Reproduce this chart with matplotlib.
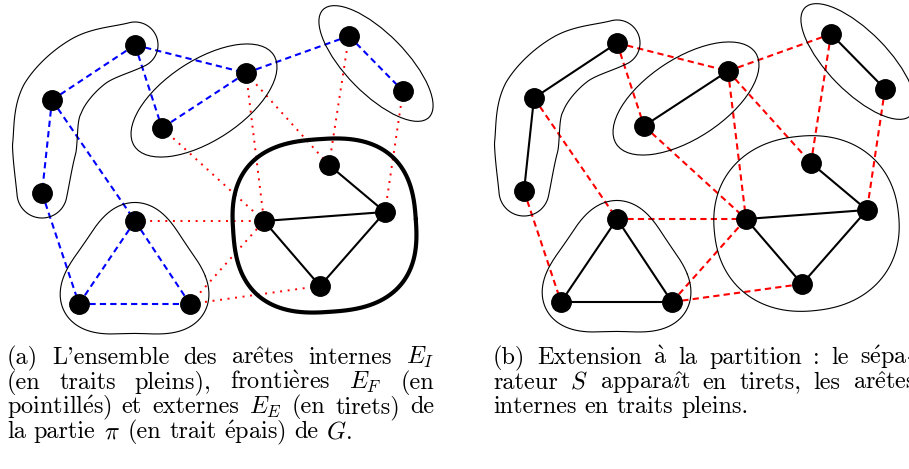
import numpy as np
import matplotlib
matplotlib.use("Agg")
import matplotlib.pyplot as plt
from matplotlib.patches import Ellipse

plt.rcParams['mathtext.fontset'] = 'cm'
plt.rcParams['font.family'] = ['cmr10', 'STIXGeneral']

# noeuds du graphe G (panneau a, en pixels)
names = list("ABCDEFGHIJKLMN")
node_x = [135, 52, 42, 246, 162, 349, 403, 329, 264, 385, 320, 135, 79, 190]
node_y = [45, 100, 193, 73, 128, 36, 91, 165, 221, 212, 286, 221, 304, 304]

# aretes
internal_edges = [("H", "J"), ("I", "J"), ("I", "K"), ("J", "K")]
frontier_edges = [("E", "I"), ("D", "I"), ("D", "H"), ("F", "H"), ("G", "J"),
                  ("L", "I"), ("N", "I"), ("N", "K")]
external_edges = [("A", "B"), ("A", "D"), ("A", "E"), ("B", "C"), ("B", "L"),
                  ("C", "M"), ("D", "E"), ("D", "F"), ("F", "G"), ("L", "M"),
                  ("L", "N"), ("M", "N")]

# partition
parts = [["A", "B", "C"], ["D", "E"], ["F", "G"], ["H", "I", "J", "K"], ["L", "M", "N"]]

# legendes
caption_a = [
    ["(a)", "L'ensemble", "des", r"$\mathrm{ar\hat{e}tes}$", "internes", r"$E_I$"],
    ["(en", "traits", "pleins),", r"$\mathrm{fronti\grave{e}res}$", r"$E_F$", "(en"],
    [r"$\mathrm{pointill\acute{e}s)}$", "et", "externes", r"$E_E$", "(en", "tirets)", "de"],
    ["la", "partie", r"$\pi$", "(en", "trait", r"$\mathrm{\acute{e}pais)}$", "de", r"$G.$"],
]
caption_b = [
    ["(b)", "Extension", r"$\mathrm{\grave{a}}$", "la", "partition", ":", "le",
     [r"$\mathrm{s\acute{e}pa}$", "-"]],
    ["rateur", r"$S$", r"$\mathrm{appara\hat{\imath}t}$", "en", "tirets,", "les",
     r"$\mathrm{ar\hat{e}tes}$"],
    ["internes", "en", "traits", "pleins."],
]

pos = {n: np.array([x, y], float) for n, x, y in zip(names, node_x, node_y)}
part_of = {n: i for i, p in enumerate(parts) for n in p}
all_edges = internal_edges + frontier_edges + external_edges

fig = plt.figure(figsize=(9.09, 4.69), dpi=100)
ax = fig.add_axes([0, 0, 1, 1])
ax.set_xlim(0, 909)
ax.set_ylim(469, 0)
ax.axis('off')

DASH = (0, (3.0, 2.0))
DOT = (0, (1.0, 2.9))


def edge(p, q, dx, dy, **kw):
    ax.plot([pos[p][0] + dx, pos[q][0] + dx], [pos[p][1] + dy, pos[q][1] + dy],
            zorder=1, **kw)


def ellipse_hull(p, q, margin, half_w, lw):
    c = (p + q) / 2
    L = np.hypot(*(q - p))
    ang = np.degrees(np.arctan2(q[1] - p[1], q[0] - p[0]))
    ax.add_patch(Ellipse(c, 2 * (L / 2 + margin), 2 * half_w, angle=ang,
                         fill=False, ec='k', lw=lw, zorder=2))


def superellipse_hull(pts, mx, my, n, rot, lw):
    lo, hi = pts.min(0), pts.max(0)
    c = (lo + hi) / 2
    A, B = (hi - lo) / 2 + [mx, my]
    t = np.linspace(0, 2 * np.pi, 400)
    x = A * np.sign(np.cos(t)) * np.abs(np.cos(t)) ** (2 / n)
    y = B * np.sign(np.sin(t)) * np.abs(np.sin(t)) ** (2 / n)
    r = np.radians(rot)
    xr = c[0] + x * np.cos(r) - y * np.sin(r)
    yr = c[1] + x * np.sin(r) + y * np.cos(r)
    ax.plot(xr, yr, color='k', lw=lw, zorder=2, solid_capstyle='round')


def poly_dist(px, py, poly):
    dmin = np.full(px.shape, np.inf)
    s = []
    for i in range(len(poly)):
        a, b = poly[i], poly[(i + 1) % len(poly)]
        ab = b - a
        apx, apy = px - a[0], py - a[1]
        t = np.clip((apx * ab[0] + apy * ab[1]) / (ab @ ab), 0, 1)
        dmin = np.minimum(dmin, np.hypot(apx - t * ab[0], apy - t * ab[1]))
        s.append(ab[0] * apy - ab[1] * apx)
    s = np.array(s)
    inside = np.all(s >= 0, 0) | np.all(s <= 0, 0)
    return np.where(inside, 0, dmin)


def blob_hull(pts, r, win, lw):
    c = pts.mean(0)
    th = np.linspace(0, 2 * np.pi, 720, endpoint=False)
    t = np.arange(0, 250, 0.25)
    px = c[0] + t[:, None] * np.cos(th)[None, :]
    py = c[1] + t[:, None] * np.sin(th)[None, :]
    d = poly_dist(px, py, pts)
    rad = t[np.argmax(d > r, axis=0)]
    k = int(win / 360 * 720) | 1
    for _ in range(2):
        ext = np.concatenate([rad[-k:], rad, rad[:k]])
        rad = np.convolve(ext, np.ones(k) / k, mode='same')[k:-k]
    x = c[0] + rad * np.cos(th)
    y = c[1] + rad * np.sin(th)
    ax.plot(np.append(x, x[0]), np.append(y, y[0]), color='k', lw=lw, zorder=2)


def catmull(P, n=80):
    P = np.vstack([2 * P[0] - P[1], P, 2 * P[-1] - P[-2]])
    out = []
    t = np.linspace(0, 1, n, endpoint=False)[:, None]
    for i in range(1, len(P) - 2):
        p0, p1, p2, p3 = P[i - 1], P[i], P[i + 1], P[i + 2]
        out.append(0.5 * (2 * p1 + (-p0 + p2) * t + (2 * p0 - 5 * p1 + 4 * p2 - p3) * t ** 2
                          + (-p0 + 3 * p1 - 3 * p2 + p3) * t ** 3))
    out.append(P[-2][None])
    return np.vstack(out)


def band_hull(pts, bows, radii, lw, n=80):
    ctrl = [pts[0]]
    for i in range(len(pts) - 1):
        p, q = pts[i], pts[i + 1]
        d = (q - p) / np.hypot(*(q - p))
        ctrl += [(p + q) / 2 + bows[i] * np.array([-d[1], d[0]]), q]
    ctrl = np.array(ctrl)
    curve = catmull(ctrl, n)
    rr = np.concatenate([np.linspace(radii[i], radii[i + 1], n, endpoint=False)
                         for i in range(len(radii) - 1)] + [[radii[-1]]])
    lo, hi = curve.min(0) - 50, curve.max(0) + 50
    X, Y = np.meshgrid(np.arange(lo[0], hi[0], 0.5), np.arange(lo[1], hi[1], 0.5))
    F = np.full(X.shape, np.inf)
    for (cx, cy), r in zip(curve, rr):
        F = np.minimum(F, np.hypot(X - cx, Y - cy) - r)
    ax.contour(X, Y, F, levels=[0], colors='k', linewidths=lw, zorder=2)


def draw_panel(dx, dy, mode):
    for p, q in all_edges:
        same = part_of[p] == part_of[q]
        if mode == 'a':
            if (p, q) in internal_edges:
                edge(p, q, dx, dy, color='k', lw=1.5)
            elif (p, q) in frontier_edges:
                edge(p, q, dx, dy, color='red', lw=1.4, ls=DOT)
            else:
                edge(p, q, dx, dy, color='blue', lw=1.5, ls=DASH)
        else:
            if same:
                edge(p, q, dx, dy, color='k', lw=1.5)
            else:
                edge(p, q, dx, dy, color='red', lw=1.5, ls=DASH)

    sh = np.array([dx, dy], float)
    P = {n: pos[n] + sh for n in names}
    band_hull(np.array([P["A"], P["B"], P["C"]]), [12, 2.5], [23, 28, 32, 32, 25], 0.8)
    ellipse_hull(P["E"], P["D"], 33, 40, 0.8)
    ellipse_hull(P["F"], P["G"], 37, 30, 0.8)
    blob_hull(np.array([P["L"], P["M"], P["N"]]), 26, 46, 0.8)
    quad = np.array([P["H"], P["I"], P["J"], P["K"]])
    if mode == 'a':
        superellipse_hull(quad, 31, 26, 2.6, -4, 3.0)
    else:
        superellipse_hull(quad, 32, 27, 2.2, -6, 0.8)

    xs = [pos[n][0] + dx for n in names]
    ys = [pos[n][1] + dy for n in names]
    ax.plot(xs, ys, 'o', color='k', ms=14, zorder=3)


draw_panel(0, 0, 'a')
draw_panel(482, -2, 'b')

FS = 17.5
renderer = fig.canvas.get_renderer()


def put_line(words, x0, y, x1=None):
    groups = []
    for w in words:
        pieces = w if isinstance(w, list) else [w]
        ts = [ax.text(0, y, s, fontsize=FS, ha='left', va='baseline') for s in pieces]
        ws = [t.get_window_extent(renderer).width for t in ts]
        groups.append((ts, ws))
    total = sum(sum(ws) for _, ws in groups)
    gap = 8.0 if x1 is None else (x1 - x0 - total) / (len(groups) - 1)
    x = x0
    for ts, ws in groups:
        for t, w in zip(ts, ws):
            t.set_x(x)
            x += w
        x += gap


for i, line in enumerate(caption_a):
    last = i == len(caption_a) - 1
    put_line(line, 7, 364 + 24.7 * i, None if last else 434)

for i, line in enumerate(caption_b):
    last = i == len(caption_b) - 1
    put_line(line, 493, 364 + 24.7 * i, None if last else 916)

fig.savefig("out.png", dpi=100)
